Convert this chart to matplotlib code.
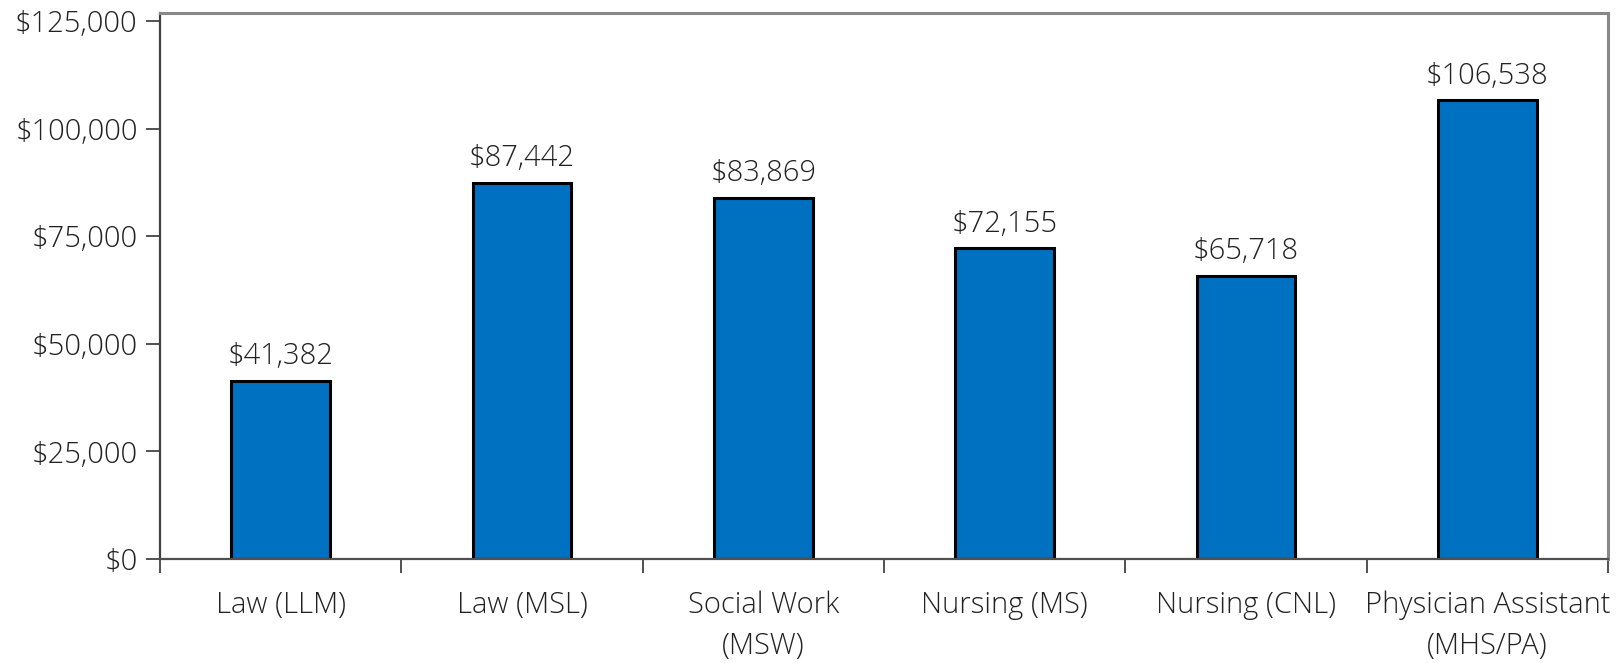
import numpy as np
import matplotlib.pyplot as plt
from matplotlib.ticker import FuncFormatter, FixedLocator

programs = ["Law (LLM)", "Law (MSL)", "Social Work\n(MSW)", "Nursing (MS)",
            "Nursing (CNL)", "Physician Assistant\n(MHS/PA)"]
salaries = [41382, 87442, 83869, 72155, 65718, 106538]
yticks = [0, 25000, 50000, 75000, 100000, 125000]

plt.rcParams["font.family"] = ["Open Sans", "DejaVu Sans"]
fontsize = 21

fig = plt.figure(figsize=(16.2, 6.63), dpi=100)
ax = fig.add_axes([160 / 1620, 1 - 559 / 663, (1608 - 160) / 1620, (559 - 12.7) / 663])

x = np.arange(len(programs))
bars = ax.bar(x, salaries, width=0.41, color="#0070C0",
              edgecolor="black", linewidth=2.2, zorder=2)

for xi, v in zip(x, salaries):
    ax.annotate(f"${v:,.0f}", (xi, v), xytext=(0, 7), textcoords="offset points",
                ha="center", va="bottom", fontsize=fontsize, color="#222222",
                fontweight="light")

ax.set_xlim(-0.5, len(programs) - 0.5)
ax.set_ylim(0, 126900)

ax.set_yticks(yticks)
ax.yaxis.set_major_formatter(FuncFormatter(lambda v, p: f"${v:,.0f}"))
ax.set_xticks(x)
ax.set_xticklabels(programs)
ax.xaxis.set_minor_locator(FixedLocator(np.arange(-0.5, len(programs), 1.0)))

ax.tick_params(axis="y", direction="out", length=10, width=1.2, color="#333333",
               labelsize=fontsize, labelcolor="#222222", pad=6)
ax.tick_params(axis="x", which="major", length=0, labelsize=fontsize,
               labelcolor="#222222", pad=23)
ax.tick_params(axis="x", which="minor", direction="out", length=10, width=1.2,
               color="#333333")
for lab in ax.get_yticklabels():
    lab.set_fontweight("light")
for lab in ax.get_xticklabels():
    lab.set_fontweight("light")
    lab.set_linespacing(1.5)
    lab.set_va("top")

ax.spines["left"].set_color("#404040")
ax.spines["left"].set_linewidth(1.6)
ax.spines["bottom"].set_color("#505050")
ax.spines["bottom"].set_linewidth(1.6)
ax.spines["top"].set_color("#888888")
ax.spines["top"].set_linewidth(2.2)
ax.spines["right"].set_color("#888888")
ax.spines["right"].set_linewidth(2.2)

fig.savefig("out.png", dpi=100)
